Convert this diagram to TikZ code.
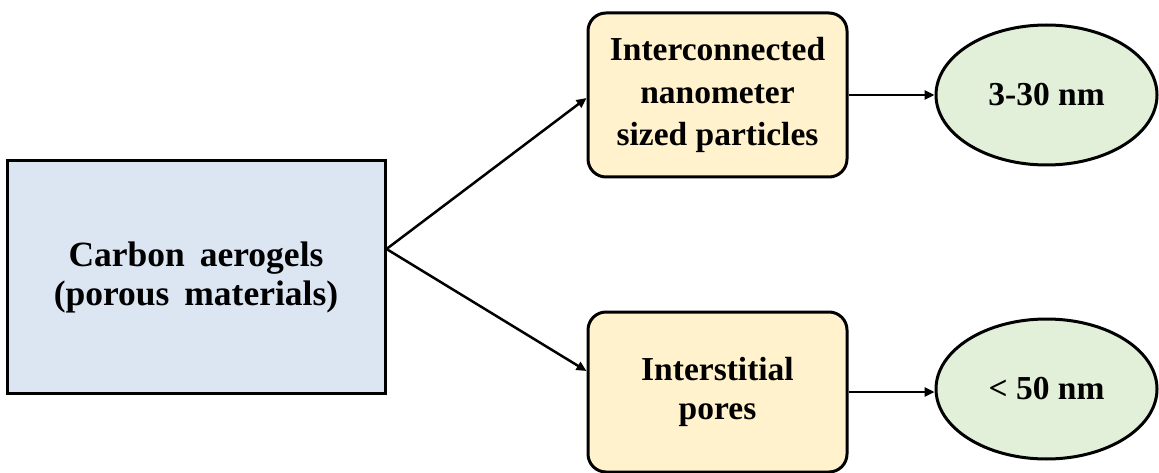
\documentclass[tikz,border=0pt]{standalone}
\usepackage{fontspec}
\setmainfont{Liberation Serif}
\usetikzlibrary{arrows.meta,shapes.geometric}
\definecolor{blueF}{HTML}{DCE6F2}
\definecolor{orangeF}{HTML}{FFF2CC}
\definecolor{greenF}{HTML}{E2F0D9}
\tikzset{
  mainbox/.style={draw=black, line width=3pt, fill=blueF, inner sep=0pt,
    minimum width=378pt, minimum height=233pt, align=center,
    font=\bfseries\fontsize{35.5}{39}\selectfont},
  roundbox/.style={draw=black, line width=3pt, fill=orangeF, rounded corners=18pt,
    inner sep=0pt, minimum width=259pt, align=center},
  ovalbox/.style={ellipse, draw=black, line width=3pt, fill=greenF, inner sep=0pt,
    minimum width=221pt, minimum height=140pt,
    font=\bfseries\fontsize{33.5}{40}\selectfont},
  conn/.style={line width=2.5pt, -{Triangle[length=10pt,width=9pt]}}
}
\begin{document}
\begin{tikzpicture}[x=1pt,y=-1pt]
\useasboundingbox (0,0) rectangle (1159,473);
\node[mainbox] (L) at (196,277)
  {Carbon\hspace{0.42em}aerogels\\(porous\hspace{0.42em}materials)};
\node[roundbox, minimum height=164pt, font=\bfseries\fontsize{33.5}{42.5}\selectfont] (T) at (717.5,95)
  {Interconnected\\nanometer\\sized particles};
\node[roundbox, minimum height=160pt, font=\bfseries\fontsize{33.5}{38.5}\selectfont] (B) at (717.5,392)
  {Interstitial\\pores};
\node[ovalbox] (E1) at (1046.5,95) {3-30 nm};
\node[ovalbox] (E2) at (1046.5,389) {< 50 nm};
\coordinate (J) at (L.east |- 0,249);
\draw[conn] (J) -- (T.west |- 0,98);
\draw[conn] (J) -- (B.west |- 0,371);
\draw[conn] (T.east) -- (E1.west);
\draw[conn] (B.east) -- (B.east -| E2.west);
\end{tikzpicture}
\end{document}
